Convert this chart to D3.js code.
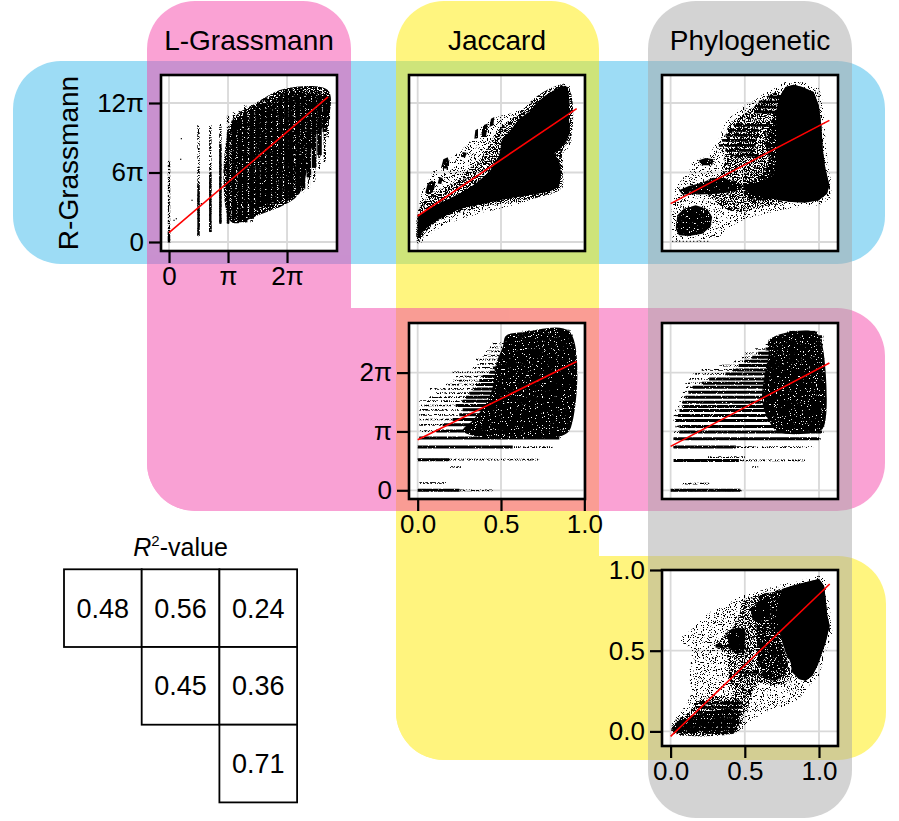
<!DOCTYPE html>
<html>
<head>
<meta charset="utf-8">
<script src="https://cdn.jsdelivr.net/npm/d3@7"></script>
<style>
  body { margin: 0; background: #fff; }
  svg { display: block; font-family: "Liberation Sans", Arial, sans-serif; }
</style>
</head>
<body>
<svg id="chart" width="899" height="821"></svg>
<script>
// ---------------- data ----------------
const colNames = ['L-Grassmann', 'Jaccard', 'Phylogenetic'];
const rowNames = ['R-Grassmann', 'L-Grassmann', 'Jaccard'];

// visible axis ranges per panel column (x) and row (y); angles are in units of pi
const colDomains = [[-0.136, 2.847], [-0.052, 1.004], [-0.058, 1.128]];
const rowDomains = [[-0.777, 14.417], [-0.148, 2.843], [-0.0905, 1.0]];
const colTicks = [[0, 1, 2], [0, 0.5, 1], [0, 0.5, 1]];
const rowTicks = [[0, 6, 12], [0, 1, 2], [0, 0.5, 1]];
const colAngular = [true, false, false];
const rowAngular = [true, true, false];

// R^2 of each comparison
const r2Values = [[0.48, 0.56, 0.24], [null, 0.45, 0.36], [null, null, 0.71]];

// red fitted lines: y = intercept + slope * x, from x = 0 to fitXMax
const fitIntercept = [[0.8, 2.245, 3.31], [null, 0.859, 0.746], [null, null, -0.031]];
const fitSlope = [[4.35, 9.71, 6.72], [null, 1.395, 1.325], [null, null, 0.881]];
const fitXMax = [[2.695, 0.954, 1.07], [null, 0.954, 1.07], [null, null, 1.072]];

// L-Grassmann vs R-Grassmann: vertical point columns [x, sparseLow, denseLow, denseHigh, sparseHigh]
const p11Stripes = [
  [0.00, -0.05, -0.05, 0.9, 7.0], [0.50, 0.5, 0.58, 4.9, 10.1], [0.70, 0.86, 0.86, 6.0, 10.1],
  [0.87, 1.58, 1.58, 8.5, 10.2], [1.00, 1.58, 1.58, 9.5, 10.9], [1.10, 2.0, 2.0, 10.5, 11.2],
  [1.20, 1.7, 1.7, 10.8, 11.4], [1.29, 1.7, 1.7, 11.2, 11.8], [1.40, 1.7, 2.0, 11.4, 11.9],
  [1.50, 2.6, 2.8, 11.6, 12.1], [1.59, 2.9, 3.0, 11.9, 12.4], [1.69, 3.2, 3.3, 12.1, 12.5],
  [1.79, 3.2, 3.4, 12.3, 12.8], [1.89, 3.3, 3.5, 12.6, 13.2], [1.99, 3.5, 3.7, 12.8, 13.3],
  [2.07, 3.6, 3.8, 12.8, 13.3], [2.18, 4.0, 4.2, 12.9, 13.3], [2.27, 4.3, 4.6, 12.9, 13.3],
  [2.37, 4.6, 5.6, 12.8, 13.1], [2.46, 5.2, 6.4, 12.8, 13.1], [2.55, 6.3, 7.5, 12.7, 13.0],
  [2.64, 6.9, 9.5, 12.6, 12.9], [2.69, 9.0, 10.6, 12.5, 12.8]
];
const p11Core = [[1.056, 10.36], [1.508, 12.09], [1.96, 13.24], [2.695, 13.09], [2.695, 10.65],
  [2.469, 8.92], [2.356, 6.62], [2.186, 4.03], [1.508, 2.3], [1.056, 1.73]];
const p11Points = [[0.209, 8.92], [0.198, 7.14], [0.39, 3.6], [0.124, 2.01], [0.085, 1.87], [0.548, 3.31]];

// Jaccard vs R-Grassmann
const p12Core = [[0, 0.29], [0, 2.3], [0.05, 2.73], [0.11, 3.17], [0.19, 3.74], [0.27, 4.32], [0.35, 5.04],
  [0.43, 6.04], [0.49, 7.48], [0.51, 8.92], [0.55, 9.5], [0.61, 10.65], [0.67, 11.22], [0.72, 12.09],
  [0.77, 12.66], [0.82, 13.09], [0.87, 13.47], [0.9, 13.38], [0.91, 12.23], [0.906, 10.94], [0.914, 9.5],
  [0.89, 8.63], [0.85, 8.0], [0.82, 7.63], [0.85, 6.91], [0.86, 5.76], [0.846, 4.75], [0.79, 4.37],
  [0.69, 4.09], [0.59, 3.88], [0.49, 3.6], [0.39, 3.31], [0.29, 3.02], [0.21, 2.59], [0.13, 2.01],
  [0.07, 1.44], [0.03, 0.86]];
const p12Medium = [[0, 2.5], [0.04, 3.6], [0.1, 4.2], [0.2, 5.0], [0.3, 6.2], [0.4, 7.6], [0.46, 9.2],
  [0.52, 10.2], [0.6, 11.0], [0.7, 12.4], [0.8, 13.3], [0.88, 13.6], [0.92, 12.8], [0.92, 9.0], [0.87, 7.9],
  [0.87, 5.5], [0.85, 4.5], [0.75, 3.95], [0.6, 3.55], [0.45, 3.2], [0.3, 2.75], [0.2, 2.3], [0.1, 1.6],
  [0.03, 0.5], [0, -0.1]];
const p12Fringe = [[0, -0.14], [0, 2.59], [0.03, 4.6], [0.09, 6.04], [0.17, 7.05], [0.25, 7.77], [0.33, 8.92],
  [0.39, 10.07], [0.47, 10.79], [0.55, 11.08], [0.63, 11.51], [0.77, 12.95], [0.87, 13.67], [0.91, 13.67],
  [0.93, 12.09], [0.926, 8.92], [0.91, 8.2], [0.87, 7.63], [0.88, 6.04], [0.87, 4.6], [0.81, 4.17],
  [0.73, 3.8], [0.61, 3.31], [0.49, 2.88], [0.37, 2.45], [0.27, 2.01], [0.17, 1.58], [0.09, 0.86], [0.03, 0]];
const p12Blobs = [
  [[0.046, 4.26], [0.06, 5.04], [0.086, 5.32], [0.106, 5.04], [0.094, 4.32], [0.066, 4.09]],
  [[0.14, 6.39], [0.154, 7.14], [0.18, 7.31], [0.19, 6.91], [0.174, 6.33]],
  [[0.12, 5.04], [0.13, 5.61], [0.15, 5.52], [0.142, 5.01]],
  [[0.26, 7.34], [0.27, 7.77], [0.294, 7.71], [0.286, 7.31]],
  [[0.34, 8.92], [0.346, 9.64], [0.362, 9.78], [0.362, 8.98]],
  [[0.38, 9.06], [0.394, 10.07], [0.42, 10.22], [0.41, 9.06]],
  [[0.43, 9.93], [0.44, 10.65], [0.46, 10.79], [0.454, 10.07]]
];

// Phylogenetic vs R-Grassmann
const p13Core = [[0.733, 12.52], [0.774, 13.38], [0.83, 13.58], [0.886, 13.38], [0.964, 12.95], [0.998, 11.8],
  [1.016, 10.07], [1.025, 8.06], [1.043, 6.33], [1.07, 4.89], [1.054, 4.17], [0.998, 3.6], [0.908, 3.4],
  [0.818, 3.45], [0.729, 3.6], [0.639, 3.88], [0.549, 4.17], [0.482, 4.6], [0.527, 5.04], [0.617, 5.18],
  [0.695, 5.76], [0.717, 7.19], [0.711, 8.92], [0.711, 10.36], [0.717, 11.51]];
const p13Dense = [[0.5, 4.9], [0.6, 5.6], [0.66, 7.0], [0.64, 8.6], [0.68, 10.5], [0.72, 11.5], [0.72, 4.0],
  [0.6, 3.6], [0.5, 4.0]];
const p13Medium = [[0.258, 5.18], [0.348, 6.04], [0.37, 8.06], [0.392, 10.07], [0.482, 10.94], [0.572, 11.8],
  [0.661, 12.66], [0.733, 12.95], [0.751, 8.92], [0.751, 3.45], [0.661, 3.17], [0.549, 2.88], [0.46, 2.59],
  [0.37, 2.88], [0.28, 3.74], [0.235, 4.32]];
const p13Fringe = [[0.011, 0.14], [0.007, 3.17], [0.034, 4.89], [0.123, 6.04], [0.146, 6.91], [0.258, 7.48],
  [0.325, 8.92], [0.37, 10.36], [0.46, 11.51], [0.549, 12.09], [0.661, 13.09], [0.774, 13.81], [0.886, 13.81],
  [0.998, 13.38], [1.031, 11.8], [1.043, 8.92], [1.061, 6.62], [1.087, 4.89], [1.076, 3.74], [0.998, 3.17],
  [0.863, 3.02], [0.729, 2.73], [0.594, 2.3], [0.482, 1.87], [0.392, 1.15], [0.325, 0.43], [0.191, 0.14]];
const p13Blobs = [
  [[0.034, 1.15], [0.045, 2.3], [0.09, 2.88], [0.168, 3.17], [0.247, 2.88], [0.28, 2.16], [0.269, 1.29],
   [0.213, 0.72], [0.123, 0.52], [0.056, 0.58]],
  [[0.056, 4.46], [0.123, 4.83], [0.213, 5.12], [0.28, 5.53], [0.359, 5.53], [0.437, 5.18], [0.504, 4.83],
   [0.437, 4.37], [0.325, 4.17], [0.191, 4.09], [0.078, 4.09]],
  [[0.191, 7.05], [0.235, 7.25], [0.291, 7.14], [0.28, 6.62], [0.202, 6.62]]
];
// horizontal streaks [y, xStart, xEnd]
const p13Streaks = [[12.52, 0.661, 0.74], [12.09, 0.594, 0.74], [11.65, 0.572, 0.74], [11.22, 0.572, 0.729],
  [10.07, 0.437, 0.661], [9.64, 0.392, 0.594], [9.21, 0.37, 0.594], [8.78, 0.347, 0.572],
  [8.35, 0.325, 0.572], [7.91, 0.37, 0.549], [7.48, 0.437, 0.594]];
const p13DotRows = [[0.05, 0.011, 0.27]];

// Jaccard vs L-Grassmann: horizontal point rows [y, sparseStart, denseStart, denseEnd, sparseEnd]
const p22Stripes = [
  [0, 0, 0, 0.25, 0.45], [0.124, 0.01, 0.01, 0.01, 0.17], [0.395, 0.19, 0.19, 0.19, 0.26],
  [0.52, 0, 0, 0.19, 0.73], [0.734, 0, 0, 0.57, 0.81], [0.887, 0.01, 0.01, 0.85, 0.86],
  [1.006, 0.01, 0.11, 0.87, 0.88], [1.113, 0.01, 0.15, 0.89, 0.9], [1.203, 0.01, 0.21, 0.91, 0.91],
  [1.282, 0.01, 0.25, 0.91, 0.92], [1.367, 0.01, 0.27, 0.92, 0.93], [1.441, 0.01, 0.23, 0.92, 0.93],
  [1.514, 0.01, 0.27, 0.92, 0.93], [1.582, 0.07, 0.29, 0.92, 0.93], [1.65, 0.11, 0.31, 0.92, 0.93],
  [1.723, 0.07, 0.33, 0.93, 0.94], [1.797, 0.17, 0.35, 0.93, 0.94], [1.864, 0.21, 0.37, 0.93, 0.94],
  [1.932, 0.23, 0.39, 0.93, 0.94], [2.006, 0.21, 0.43, 0.93, 0.94], [2.079, 0.33, 0.45, 0.93, 0.94],
  [2.147, 0.35, 0.49, 0.92, 0.93], [2.22, 0.35, 0.51, 0.92, 0.93], [2.288, 0.39, 0.53, 0.92, 0.93],
  [2.362, 0.41, 0.55, 0.92, 0.93], [2.429, 0.43, 0.57, 0.92, 0.93], [2.497, 0.45, 0.59, 0.92, 0.93],
  [2.571, 0.55, 0.63, 0.92, 0.93], [2.638, 0.59, 0.67, 0.92, 0.93], [2.701, 0.63, 0.71, 0.91, 0.92]
];
const p22Core = [[0.53, 2.627], [0.63, 2.684], [0.91, 2.7], [0.92, 1.073], [0.87, 0.932], [0.53, 0.904],
  [0.33, 0.932], [0.27, 1.017], [0.33, 1.186], [0.41, 1.469], [0.45, 1.751], [0.47, 2.147], [0.51, 2.429]];

// Phylogenetic vs L-Grassmann
const p23Stripes = [
  [0, 0, 0, 0.47, 0.48], [0.113, 0.08, 0.08, 0.08, 0.26], [0.395, 0.55, 0.55, 0.55, 0.59],
  [0.508, 0.02, 0.02, 0.46, 0.91], [0.565, 0.24, 0.24, 0.24, 0.5], [0.734, 0.02, 0.02, 0.44, 0.96],
  [0.876, 0.02, 0.02, 1.0, 1.02], [0.989, 0.02, 0.06, 1.02, 1.03], [1.085, 0.03, 0.06, 1.03, 1.04],
  [1.186, 0.02, 0.03, 1.03, 1.04], [1.271, 0.02, 0.05, 1.03, 1.04], [1.356, 0.03, 0.06, 1.03, 1.04],
  [1.424, 0.05, 0.08, 1.03, 1.04], [1.497, 0.06, 0.08, 1.03, 1.04], [1.582, 0.06, 0.1, 1.03, 1.04],
  [1.667, 0.08, 0.12, 1.03, 1.04], [1.751, 0.1, 0.15, 1.03, 1.04], [1.819, 0.1, 0.21, 1.03, 1.04],
  [1.893, 0.12, 0.26, 1.03, 1.04], [1.977, 0.15, 0.37, 1.03, 1.04], [2.045, 0.21, 0.42, 1.03, 1.04],
  [2.119, 0.33, 0.46, 1.03, 1.04], [2.192, 0.42, 0.5, 1.03, 1.04], [2.26, 0.48, 0.55, 1.03, 1.04],
  [2.328, 0.5, 0.59, 1.02, 1.03], [2.401, 0.57, 0.64, 1.02, 1.03], [2.475, 0.64, 0.68, 1.02, 1.03],
  [2.542, 0.66, 0.71, 1.02, 1.03], [2.61, 0.75, 0.77, 1.02, 1.03], [2.684, 0.785, 0.8, 0.975, 0.99]
];
const p23Core = [[0.661, 2.542], [0.796, 2.684], [0.975, 2.684], [1.02, 2.486], [1.031, 1.073], [0.975, 0.989],
  [0.729, 0.989], [0.661, 1.186], [0.617, 1.525], [0.639, 2.034], [0.661, 2.316]];

// Phylogenetic vs Jaccard
const p33Core = [[0.753, 0.882], [0.82, 0.903], [0.91, 0.924], [1.0, 0.944], [1.034, 0.903], [1.045, 0.82],
  [1.056, 0.717], [1.072, 0.655], [1.045, 0.552], [1.022, 0.49], [0.989, 0.407], [0.955, 0.345],
  [0.91, 0.314], [0.865, 0.324], [0.82, 0.366], [0.809, 0.428], [0.775, 0.49], [0.753, 0.552],
  [0.73, 0.634], [0.708, 0.717], [0.73, 0.82]];
const p33Dense = [[0.6, 0.84], [0.68, 0.86], [0.75, 0.87], [0.74, 0.6], [0.79, 0.4], [0.74, 0.33], [0.65, 0.32],
  [0.6, 0.4], [0.58, 0.6]];
const p33LowDense = [[0.02, 0], [0.03, 0.05], [0.15, 0.09], [0.3, 0.13], [0.45, 0.13], [0.44, 0], [0.2, -0.01]];
const p33Medium = [[0.483, 0.8], [0.573, 0.841], [0.663, 0.851], [0.753, 0.882], [0.73, 0.614], [0.775, 0.448],
  [0.82, 0.345], [0.775, 0.304], [0.685, 0.283], [0.596, 0.304], [0.551, 0.242], [0.506, 0.118],
  [0.438, 0.2], [0.393, 0.345], [0.371, 0.49], [0.303, 0.531], [0.393, 0.614], [0.461, 0.717]];
const p33LowBand = [[0.011, -0.006], [0.022, 0.056], [0.124, 0.118], [0.169, 0.18], [0.258, 0.211],
  [0.371, 0.211], [0.483, 0.2], [0.494, 0.118], [0.472, 0.035], [0.449, -0.006]];
const p33Fringe = [[0, -0.027], [0.011, 0.056], [0.101, 0.159], [0.146, 0.242], [0.124, 0.345], [0.146, 0.49],
  [0.056, 0.572], [0.146, 0.634], [0.258, 0.738], [0.371, 0.779], [0.461, 0.841], [0.573, 0.862],
  [0.708, 0.903], [0.865, 0.934], [1.0, 0.965], [1.045, 0.944], [1.079, 0.717], [1.09, 0.614],
  [1.045, 0.49], [1.0, 0.345], [0.933, 0.283], [0.865, 0.2], [0.775, 0.159], [0.64, 0.118],
  [0.551, 0.076], [0.483, 0.0145], [0.326, -0.017], [0.146, -0.027]];
const p33Blobs = [
  [[0.382, 0.624], [0.461, 0.645], [0.506, 0.614], [0.494, 0.49], [0.438, 0.479], [0.393, 0.521]],
  [[0.539, 0.758], [0.596, 0.81], [0.663, 0.82], [0.674, 0.717], [0.596, 0.676], [0.551, 0.696]]
];
const p33Streaks = [[0.0145, 0.011, 0.438], [0.039, 0.034, 0.438], [0.064, 0.056, 0.438], [0.093, 0.124, 0.461],
  [0.118, 0.169, 0.472], [0.149, 0.169, 0.483], [0.176, 0.191, 0.483], [0.527, 0.303, 0.506],
  [0.366, 0.461, 0.596], [0.603, 0.371, 0.506]];

// ---------------- layout ----------------
const box = 176;
const colX = [161, 409, 662];
const rowY = [75, 323, 570];

const svg = d3.select('#chart');
const defs = svg.append('defs');

// speckle textures: thresholded noise masked by the shape it is applied to
function speckle(id, threshold, seed) {
  const f = defs.append('filter').attr('id', id)
    .attr('x', '-5%').attr('y', '-5%').attr('width', '110%').attr('height', '110%')
    .attr('color-interpolation-filters', 'sRGB');
  f.append('feTurbulence').attr('type', 'fractalNoise').attr('baseFrequency', 0.85)
    .attr('numOctaves', 2).attr('seed', seed).attr('result', 'n');
  f.append('feColorMatrix').attr('in', 'n').attr('type', 'matrix')
    .attr('values', `0 0 0 0 0  0 0 0 0 0  0 0 0 0 0  25 0 0 0 ${-25 * threshold}`).attr('result', 'm');
  f.append('feComposite').attr('in', 'm').attr('in2', 'SourceAlpha').attr('operator', 'in');
}
speckle('fSparse', 0.6, 3);
speckle('fMedium', 0.49, 5);
speckle('fDense', 0.4, 7);
speckle('fSolid', 0.3, 9);

// ---------------- coloured background bands ----------------
const bands = [
  { color: 'rgb(60,185,235)', rects: [[13, 61, 872, 203]] },
  { color: 'rgb(255,235,0)', rects: [[396, 1, 203, 759], [396, 556, 490, 204]] },
  { color: 'rgb(245,70,170)', rects: [[147, 1, 204, 510], [147, 308, 738, 203]] },
  { color: 'rgb(167,167,167)', rects: [[648, 1, 204, 817]] }
];
bands.forEach(b => {
  svg.append('g').attr('opacity', 0.5)
    .selectAll('rect').data(b.rects).join('rect')
    .attr('x', d => d[0]).attr('y', d => d[1])
    .attr('width', d => d[2]).attr('height', d => d[3])
    .attr('rx', 48).attr('fill', b.color);
});

// ---------------- titles ----------------
svg.append('g').selectAll('text').data(colNames).join('text')
  .attr('x', (d, i) => colX[i] + box / 2).attr('y', 50)
  .attr('text-anchor', 'middle').attr('font-size', 28).text(d => d);

svg.append('text')
  .attr('transform', `translate(78,${rowY[0] + box / 2}) rotate(-90)`)
  .attr('text-anchor', 'middle').attr('font-size', 28).text(rowNames[0]);

// ---------------- panels ----------------
// sparse / medium / dense / tight: speckled areas, solid: filled areas
const panelData = {
  '0-0': { dense: [p11Core], vStripes: p11Stripes, points: p11Points },
  '0-1': { sparse: [p12Fringe], medium: [p12Medium], solid: [p12Core], blobs: p12Blobs },
  '0-2': { sparse: [p13Fringe], medium: [p13Medium], dense: [p13Dense], solid: [p13Core], blobs: p13Blobs,
           streaks: p13Streaks, dotRows: p13DotRows },
  '1-1': { tight: [p22Core], hStripes: p22Stripes },
  '1-2': { tight: [p23Core], hStripes: p23Stripes },
  '2-2': { sparse: [p33Fringe], medium: [p33Medium, p33LowBand], dense: [p33Dense, p33LowDense],
           solid: [p33Core], blobs: p33Blobs, streaks: p33Streaks }
};

const piFmt = v => v === 0 ? '0' : (v === 1 ? 'π' : v + 'π');
const decFmt = d3.format('.1f');

for (let r = 0; r < 3; r++) {
  for (let c = r; c < 3; c++) {
    const pd = panelData[r + '-' + c];
    const x = d3.scaleLinear().domain(colDomains[c]).range([colX[c], colX[c] + box]);
    const y = d3.scaleLinear().domain(rowDomains[r]).range([rowY[r] + box, rowY[r]]);
    const clipId = 'clip' + r + c;
    defs.append('clipPath').attr('id', clipId)
      .append('rect').attr('x', colX[c]).attr('y', rowY[r]).attr('width', box).attr('height', box);

    const g = svg.append('g');
    g.append('rect').attr('x', colX[c]).attr('y', rowY[r]).attr('width', box).attr('height', box)
      .attr('fill', '#fff');

    const inner = g.append('g').attr('clip-path', `url(#${clipId})`);

    // grid
    inner.append('g').selectAll('line').data(colTicks[c]).join('line')
      .attr('x1', d => x(d)).attr('x2', d => x(d))
      .attr('y1', rowY[r]).attr('y2', rowY[r] + box)
      .attr('stroke', '#d9d9d9').attr('stroke-width', 1.8);
    inner.append('g').selectAll('line').data(rowTicks[r]).join('line')
      .attr('y1', d => y(d)).attr('y2', d => y(d))
      .attr('x1', colX[c]).attr('x2', colX[c] + box)
      .attr('stroke', '#d9d9d9').attr('stroke-width', 1.8);

    const shape = d3.line().x(d => x(d[0])).y(d => y(d[1])).curve(d3.curveLinearClosed);
    const blob = d3.line().x(d => x(d[0])).y(d => y(d[1])).curve(d3.curveCatmullRomClosed.alpha(0.5));

    const area = (list, filter, gen) => {
      if (!list) return;
      const lg = inner.append('g');
      if (filter) lg.attr('filter', `url(#${filter})`);
      lg.selectAll('path').data(list).join('path').attr('d', d => gen(d)).attr('fill', '#000');
    };
    area(pd.sparse, 'fSparse', shape);
    area(pd.medium, 'fMedium', blob);
    area(pd.dense, 'fDense', blob);
    area(pd.tight, 'fSolid', blob);
    area(pd.solid, 'fSolid', shape);
    area(pd.solid, null, shape);
    area(pd.blobs, 'fSolid', shape);

    if (pd.vStripes) {
      inner.append('g').attr('filter', 'url(#fMedium)')
        .selectAll('line').data(pd.vStripes).join('line')
        .attr('x1', d => x(d[0])).attr('x2', d => x(d[0]))
        .attr('y1', d => y(d[1])).attr('y2', d => y(d[4]))
        .attr('stroke', '#000').attr('stroke-width', 2.4);
      inner.append('g').attr('filter', 'url(#fSolid)')
        .selectAll('line').data(pd.vStripes.filter(d => d[3] > d[2])).join('line')
        .attr('x1', d => x(d[0])).attr('x2', d => x(d[0]))
        .attr('y1', d => y(d[2])).attr('y2', d => y(d[3]))
        .attr('stroke', '#000').attr('stroke-width', d => d[0] < 1.05 ? 2.4 : 4.6);
    }
    if (pd.hStripes) {
      inner.append('g').attr('filter', 'url(#fMedium)')
        .selectAll('line').data(pd.hStripes).join('line')
        .attr('y1', d => y(d[0])).attr('y2', d => y(d[0]))
        .attr('x1', d => x(d[1])).attr('x2', d => x(d[4]))
        .attr('stroke', '#000').attr('stroke-width', 1.7);
      inner.append('g').attr('filter', 'url(#fSolid)')
        .selectAll('line').data(pd.hStripes.filter(d => d[3] > d[2])).join('line')
        .attr('y1', d => y(d[0])).attr('y2', d => y(d[0]))
        .attr('x1', d => x(d[2])).attr('x2', d => x(d[3]))
        .attr('stroke', '#000').attr('stroke-width', 3);
    }
    if (pd.streaks) inner.append('g').attr('filter', 'url(#fSolid)')
      .selectAll('line').data(pd.streaks).join('line')
      .attr('y1', d => y(d[0])).attr('y2', d => y(d[0]))
      .attr('x1', d => x(d[1])).attr('x2', d => x(d[2]))
      .attr('stroke', '#000').attr('stroke-width', 2.8);
    if (pd.dotRows) inner.append('g').selectAll('line').data(pd.dotRows).join('line')
      .attr('y1', d => y(d[0])).attr('y2', d => y(d[0]))
      .attr('x1', d => x(d[1])).attr('x2', d => x(d[2]))
      .attr('stroke', '#000').attr('stroke-width', 1.2).attr('stroke-dasharray', '1 2.5');
    if (pd.points) inner.append('g').selectAll('rect').data(pd.points).join('rect')
      .attr('x', d => x(d[0]) - 0.6).attr('y', d => y(d[1]) - 0.6)
      .attr('width', 1.2).attr('height', 1.2).attr('fill', '#000');

    // fitted line
    const a = fitIntercept[r][c], b = fitSlope[r][c];
    inner.append('path')
      .attr('d', d3.line().x(d => x(d)).y(d => y(a + b * d))([0, fitXMax[r][c]]))
      .attr('stroke', '#ff0000').attr('stroke-width', 1.6).attr('fill', 'none');

    g.append('rect').attr('x', colX[c]).attr('y', rowY[r]).attr('width', box).attr('height', box)
      .attr('fill', 'none').attr('stroke', '#000').attr('stroke-width', 2.6);

    // axes on the diagonal panels
    if (r === c) {
      const styleAxis = sel => {
        sel.attr('font-size', 26).attr('font-family', '"Liberation Sans", Arial, sans-serif');
        sel.select('.domain').remove();
        sel.selectAll('.tick line').attr('stroke', '#000').attr('stroke-width', 2.2);
        sel.selectAll('.tick text').attr('fill', '#000');
      };
      const yAxis = svg.append('g').attr('transform', `translate(${colX[c]},0)`)
        .call(d3.axisLeft(y).tickValues(rowTicks[r]).tickSize(12).tickPadding(5)
          .tickFormat(rowAngular[r] ? piFmt : decFmt));
      styleAxis(yAxis);
      const xAxis = svg.append('g').attr('transform', `translate(0,${rowY[r] + box})`)
        .call(d3.axisBottom(x).tickValues(colTicks[c]).tickSize(12).tickPadding(4)
          .tickFormat(colAngular[c] ? piFmt : decFmt));
      styleAxis(xAxis);
    }
  }
}

// ---------------- R^2 table ----------------
const cell = 77.7;
const tx = d3.scaleLinear().domain([0, 3]).range([64, 64 + 3 * cell]);
const ty = d3.scaleLinear().domain([0, 3]).range([569.3, 569.3 + 3 * cell]);
const cells = [];
r2Values.forEach((row, i) => row.forEach((v, j) => { if (v !== null) cells.push({ i, j, v }); }));

const tg = svg.append('g');
tg.selectAll('rect').data(cells).join('rect')
  .attr('x', d => tx(d.j)).attr('y', d => ty(d.i))
  .attr('width', cell).attr('height', cell)
  .attr('fill', '#fff').attr('stroke', '#000').attr('stroke-width', 1.8);
tg.selectAll('text').data(cells).join('text')
  .attr('x', d => tx(d.j + 0.5)).attr('y', d => ty(d.i + 0.5))
  .attr('dy', '0.35em').attr('text-anchor', 'middle').attr('font-size', 27)
  .text(d => d3.format('.2f')(d.v));

const title = tg.append('text').attr('x', tx(1.5)).attr('y', 555.7)
  .attr('text-anchor', 'middle').attr('font-size', 25);
title.append('tspan').attr('font-style', 'italic').text('R');
title.append('tspan').attr('font-size', 15).attr('dy', -10).text('2');
title.append('tspan').attr('dy', 10).text('-value');
</script>
</body>
</html>
